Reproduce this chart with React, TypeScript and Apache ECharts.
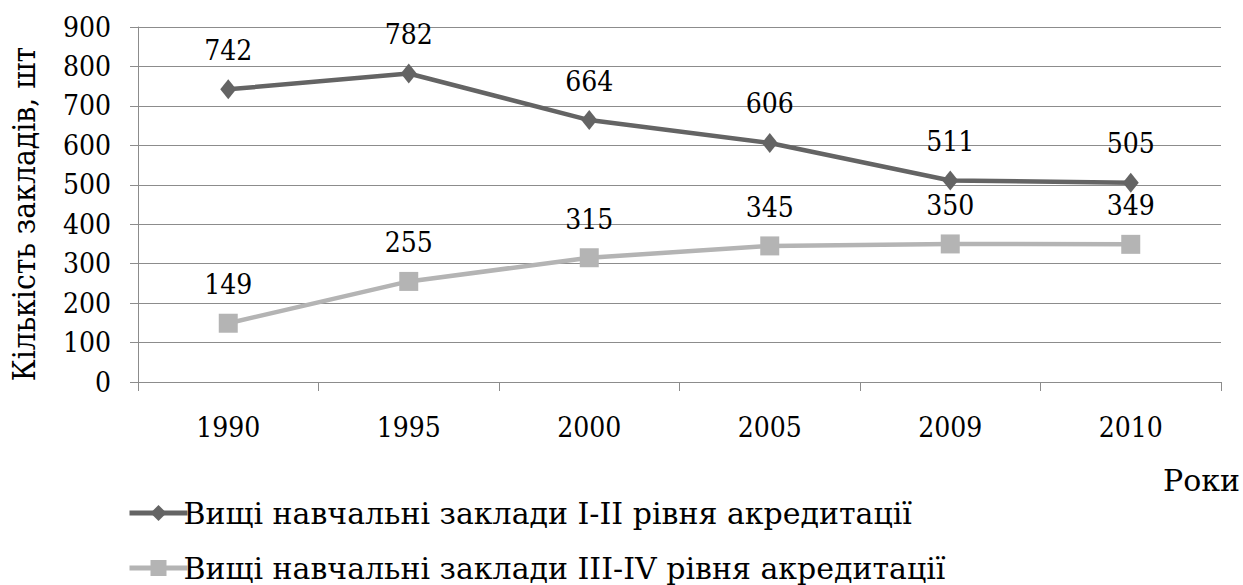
import React, { useEffect, useRef } from "react";
import * as echarts from "echarts";

const years = ["1990", "1995", "2000", "2005", "2009", "2010"];
const series1Name = "Вищі навчальні заклади I-II рівня акредитації";
const series2Name = "Вищі навчальні заклади III-IV рівня акредитації";
const series1Values = [742, 782, 664, 606, 511, 505];
const series2Values = [149, 255, 315, 345, 350, 349];
const yAxisName = "Кількість закладів, шт";
const xAxisName = "Роки";

const FONT = "DejaVu Serif";
const FONTC = "DejaVu Serif Condensed";

export default function App() {
  const ref = useRef<HTMLDivElement>(null);
  useEffect(() => {
    if (!ref.current) return;
    const chart = echarts.init(ref.current, undefined, { renderer: "svg" });
    const legendCommon = {
      left: 122,
      itemWidth: 58,
      itemHeight: 20,
      lineStyle: { width: 5 },
      textStyle: { fontFamily: FONT, fontSize: 30, color: "#000", padding: [0, 0, 0, -9] },
    };
    chart.setOption({
      animation: false,
      backgroundColor: "#ffffff",
      grid: { left: 138, top: 27, right: 22, bottom: 203, containLabel: false },
      legend: [
        { ...legendCommon, top: 493, data: [series1Name] },
        { ...legendCommon, top: 548, data: [series2Name] },
      ],
      xAxis: {
        type: "category",
        data: years,
        boundaryGap: true,
        axisLine: { lineStyle: { color: "#8c8c8c", width: 1 } },
        axisTick: { show: true, length: 9, lineStyle: { color: "#8c8c8c" } },
        axisLabel: { fontFamily: FONTC, fontSize: 28, color: "#000", margin: 31 },
      },
      yAxis: {
        type: "value",
        min: 0,
        max: 900,
        interval: 100,
        axisLine: { show: true, lineStyle: { color: "#8c8c8c", width: 1 } },
        axisTick: { show: true, length: 8, lineStyle: { color: "#8c8c8c" } },
        splitLine: { show: true, lineStyle: { color: "#8c8c8c", width: 1 } },
        axisLabel: { fontFamily: FONTC, fontSize: 28, color: "#000", margin: 27 },
      },
      graphic: [
        {
          type: "text",
          x: 24,
          y: 214,
          rotation: Math.PI / 2,
          style: {
            text: yAxisName,
            fontFamily: FONTC,
            fontSize: 31.5,
            fill: "#000",
            textAlign: "center",
            textVerticalAlign: "middle",
          },
        },
        {
          type: "text",
          x: 1240,
          y: 480,
          style: {
            text: xAxisName,
            fontFamily: FONT,
            fontSize: 30,
            fill: "#000",
            textAlign: "right",
            textVerticalAlign: "middle",
          },
        },
      ],
      series: [
        {
          name: series1Name,
          type: "line",
          data: series1Values,
          symbol: "diamond",
          symbolSize: [16, 20],
          color: "#646464",
          lineStyle: { color: "#646464", width: 4.5 },
          itemStyle: { color: "#646464" },
          label: { show: true, position: "top", distance: 15, fontFamily: FONTC, fontSize: 28, color: "#000" },
        },
        {
          name: series2Name,
          type: "line",
          data: series2Values,
          symbol: "rect",
          symbolSize: 19,
          color: "#b4b4b4",
          lineStyle: { color: "#b4b4b4", width: 4.5 },
          itemStyle: { color: "#b4b4b4" },
          label: { show: true, position: "top", distance: 15, fontFamily: FONTC, fontSize: 28, color: "#000" },
        },
      ],
    });
    return () => chart.dispose();
  }, []);
  return (
    <div ref={ref} style={{ width: 1243, height: 585, position: "absolute", left: 0, top: 0 }} />
  );
}
